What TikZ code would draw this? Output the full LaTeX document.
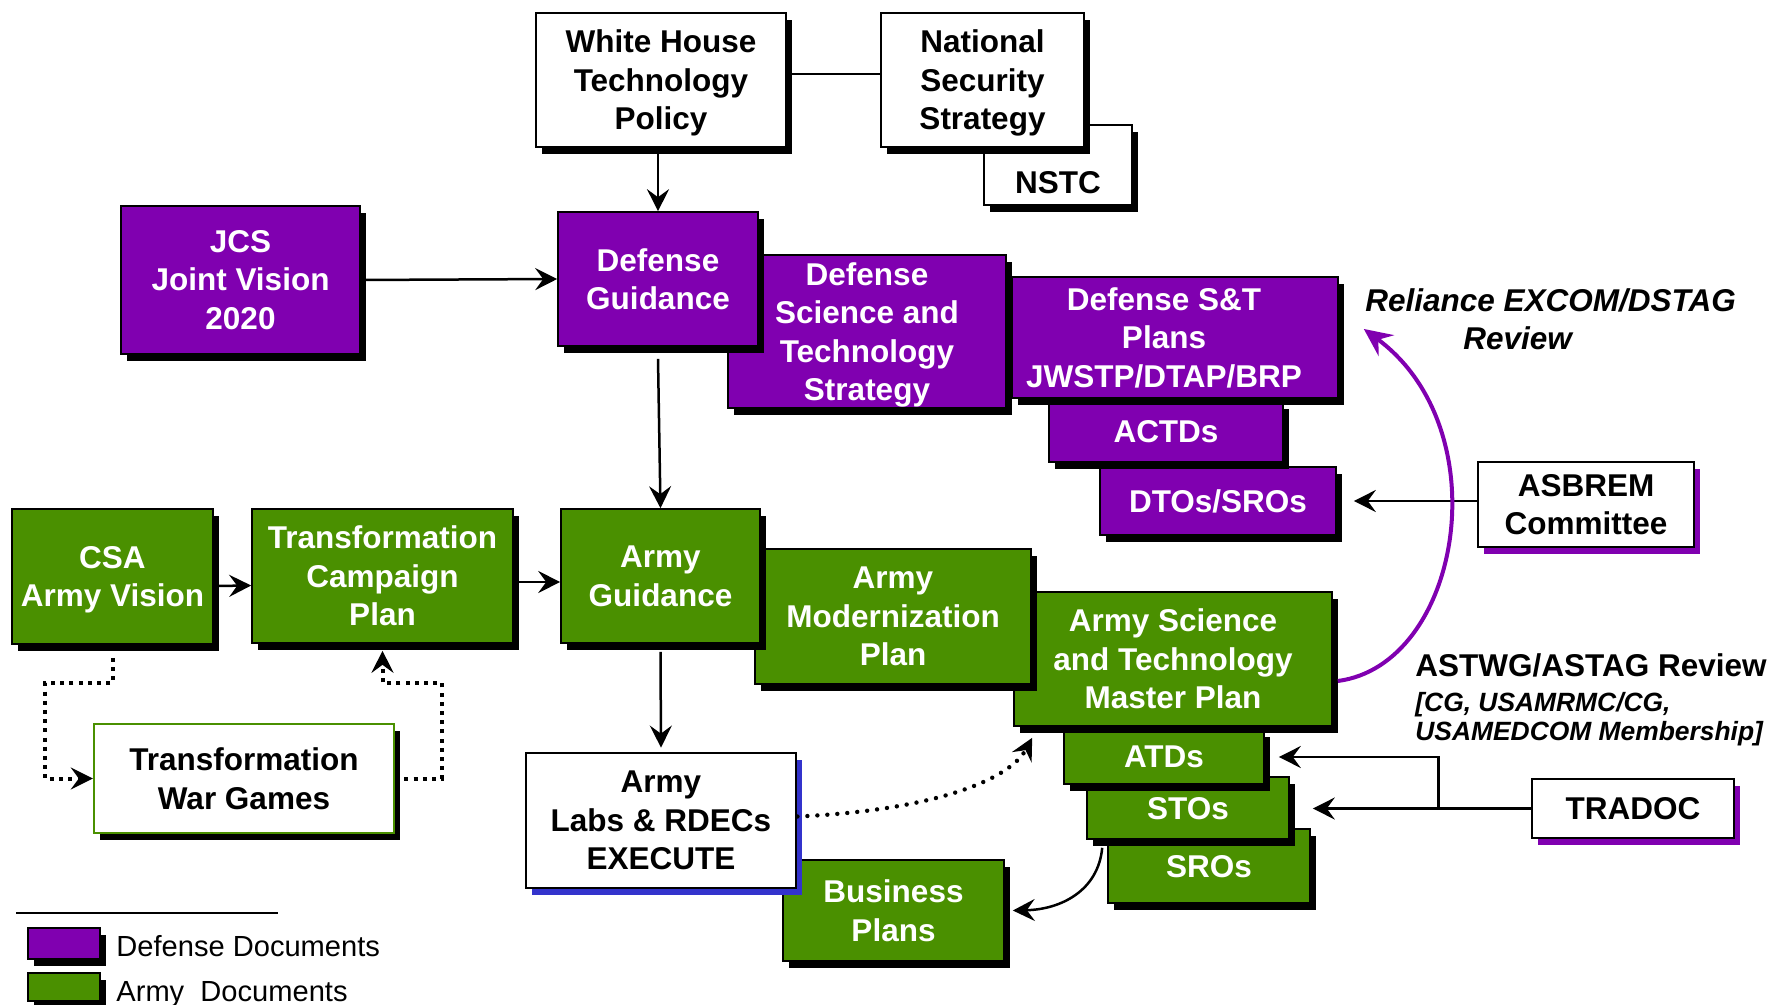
\documentclass[tikz,border=0pt]{standalone}
\usepackage{fontspec}
\setmainfont{Liberation Sans}
\usetikzlibrary{arrows.meta,shadows,calc}
\definecolor{defpurple}{RGB}{128,0,176}
\definecolor{armygreen}{RGB}{74,144,0}
\definecolor{labblue}{RGB}{51,51,204}

\begin{document}
\begin{tikzpicture}[x=0.5pt,y=-0.5pt,
  txt/.style={font=\fontsize{15.75pt}{19.25pt}\selectfont\bfseries, align=center},
  sz/.style 2 args={minimum width=#1, minimum height=#2},
  shade/.style={general shadow={fill=#1, shadow xshift=3pt, shadow yshift=-3.5pt}},
  docbox/.style={inner sep=0pt, text depth=0pt, txt},
  pbox/.style={docbox, fill=defpurple, draw=black, line width=0.8pt, text=white, shade=black},
  gbox/.style={docbox, fill=armygreen, draw=black, line width=0.8pt, text=white, shade=black},
  wbox/.style={docbox, fill=white, draw=black, line width=1.4pt, text=black, shade=#1},
  wbox/.default=black,
  arr/.style={line width=1.25pt, -{Stealth[length=11pt,width=11pt,inset=4pt]}},
  sqdot/.style={line width=2pt, dash pattern=on 2pt off 2.6pt},
  rdot/.style={line width=2.2pt, line cap=round, dash pattern=on 0pt off 5pt},
  note/.style={inner sep=0pt, anchor=base west, text=black},
]
\useasboundingbox (0,0) rectangle (1777,1005);

% ---- national level
\node[wbox, sz={74pt}{40pt},
      label={[txt, text=black, yshift=-9pt]center:NSTC}] (NSTC) at (1058,165) {};
\node[wbox, sz={101.5pt}{67pt}] (NSS) at (982.5,80) {National\\Security\\Strategy};
\node[wbox, sz={125pt}{67pt}] (WH) at (661,80) {White House\\Technology\\Policy};

% ---- defense documents
\node[pbox, sz={119.5pt}{74pt}] (JCS) at (240.5,280) {JCS\\Joint Vision\\2020};
\node[pbox, sz={118pt}{34pt}] (DTO) at (1218,501) {DTOs/SROs};
\node[pbox, sz={117pt}{30pt}] (ACTD) at (1166,432) {ACTDs};
\node[pbox, sz={163pt}{60.5pt}] (Plans) at (1175,337.5)
  {\hspace*{-11pt}Defense S\&T\\\hspace*{-11pt}Plans\\\hspace*{-11pt}JWSTP/DTAP/BRP};
\node[pbox, sz={139pt}{76.5pt}] (DSTS) at (867,331.5) {Defense\\Science and\\Technology\\Strategy};
\node[pbox, sz={100pt}{67pt}] (DG) at (658,279) {Defense\\Guidance};

% ---- army documents
\node[gbox, sz={101pt}{37pt}] (SRO) at (1209,866) {SROs};
\node[gbox, sz={101pt}{31pt}] (STO) at (1188,808) {STOs};
\node[gbox, sz={100pt}{27pt}] (ATD) at (1164,757) {ATDs};
\node[gbox, sz={159pt}{67pt}] (ASTMP) at (1173,659) {Army Science\\and Technology\\Master Plan};
\node[gbox, sz={138pt}{67.5pt}] (AMP) at (893,616.5) {Army\\Modernization\\Plan};
\node[gbox, sz={99.5pt}{67pt}] (AG) at (660.5,576) {Army\\Guidance};
\node[gbox, sz={110.5pt}{50.5pt}] (BP) at (893.5,910.5) {Business\\Plans};
\node[wbox=labblue, sz={135pt}{67.5pt}] (Labs) at (661,820.5) {Army\\Labs \& RDECs\\EXECUTE};
\node[gbox, sz={100.5pt}{67.5pt}] (CSA) at (112.5,576.5) {CSA\\Army Vision};
\node[gbox, sz={130.5pt}{67pt}] (TCP) at (382.5,576) {Transformation\\Campaign\\Plan};
\node[wbox, draw=armygreen, line width=1.2pt, sz={150pt}{54.5pt}] (TWG) at (244,778.5) {Transformation\\War Games};

% ---- review bodies
\node[wbox=defpurple, sz={108pt}{42.5pt}] (ASBREM) at (1586,504.5) {ASBREM\\Committee};
\node[wbox=defpurple, sz={101pt}{29.5pt}] (TRADOC) at (1633,808.5) {TRADOC};

% ---- connectors
\draw[line width=1.25pt] ([yshift=3pt]WH.east) -- ([yshift=3pt]NSS.west);
\draw[arr] (WH.south -| DG.north) -- (DG.north);
\draw[arr] (JCS.east) -- (DG.west);
\draw[arr] ([yshift=-6pt]DG.south) -- (AG.north);
\draw[arr] ([yshift=-4.75pt]CSA.east) -- ([yshift=-4.75pt]TCP.west);
\draw[arr] ([yshift=-3pt]TCP.east) -- ([yshift=-3pt]AG.west);
\draw[arr, shorten >=2pt] ([yshift=-4pt]AG.south) -- (Labs.north);

\draw[arr, shorten >=8.5pt] (ASBREM.west |- DTO.east) -- (DTO.east);
\draw[arr, shorten >=11.5pt] (TRADOC.west) -- (TRADOC.west -| STO.east);
\path (TRADOC.west) ++(-92,0) coordinate (tb);
\draw[arr, shorten >=7pt] (tb) |- (ATD.east);

\draw[arr, rdot] ([yshift=2pt]Labs.east) .. controls +(134,-6) and +(-23,43) ..
      ([xshift=9.5pt,yshift=-5.5pt]ASTMP.south west);
\draw[arr] ([xshift=8pt,yshift=-4pt]STO.south west) .. controls +(-4,43) and +(48,-1) ..
      ([xshift=4pt]BP.east);

\coordinate (d1) at (45,683);
\coordinate (d2) at (442,683);
\draw[arr, sqdot] ([yshift=-6.5pt]CSA.south) |- (d1) |- (TWG.west);
\draw[arr, sqdot] (TWG.east) -| (d2) -| ([yshift=-3.5pt]TCP.south);

\draw[line width=2pt, defpurple, -{Stealth[length=14pt,width=13pt,inset=5pt]}]
      ([xshift=2.5pt,yshift=-11pt]ASTMP.east) .. controls +(123,-16) and +(137,101) ..
      ([xshift=12.5pt,yshift=4.25pt]Plans.east);

% ---- review notes
\node[note, font=\fontsize{15.75pt}{19pt}\selectfont\bfseries\itshape, align=left]
      (rel) at (1365,350) {Reliance EXCOM/DSTAG\\\hspace*{49pt}Review};
\node[note, font=\fontsize{15.75pt}{19pt}\selectfont\bfseries] (astwg) at (1415,676) {ASTWG/ASTAG Review};
\node[note, font=\fontsize{13.2pt}{15pt}\selectfont\bfseries\itshape] (mem1) at (1415,711) {[CG, USAMRMC/CG,};
\node[note, font=\fontsize{13.2pt}{15pt}\selectfont\bfseries\itshape] (mem2) at (1415,740) {USAMEDCOM Membership]};

% ---- legend
\coordinate (l1) at (16,913);
\coordinate (l2) at (278,913);
\draw[line width=0.8pt] (l1) -- (l2);
\node[pbox, sz={36pt}{15.5pt}] (legD) at (64,943.5) {};
\node[gbox, sz={36pt}{14pt}] (legA) at (64,987) {};
\node[note, font=\fontsize{14.55pt}{17pt}\selectfont] (legDt) at (116,956) {Defense Documents};
\node[note, font=\fontsize{14.55pt}{17pt}\selectfont] (legAt) at (116,1001) {Army~ Documents};
\end{tikzpicture}
\end{document}
